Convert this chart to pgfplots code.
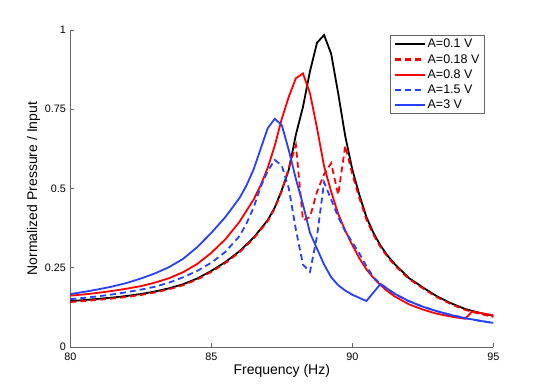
\documentclass[border=0pt]{standalone}
\usepackage{fontspec}
\setmainfont{Liberation Sans}
\usepackage{pgfplots}
\pgfplotsset{compat=1.18}
\definecolor{mblue}{RGB}{38,64,255}
\definecolor{mred}{RGB}{255,0,0}
\begin{document}
\begin{tikzpicture}
\useasboundingbox (-70.3bp,-44bp) rectangle (474.7bp,347bp);
\begin{axis}[
  at={(0,0)}, anchor=south west,
  scale only axis, width=423bp, height=317bp,
  xmin=80, xmax=95, ymin=0, ymax=1,
  axis x line*=bottom, axis y line*=left,
  x axis line style={-}, y axis line style={-},
  axis line style={black!60, line width=0.6bp},
  tick align=inside, major tick length=4bp,
  every tick/.style={black!60, line width=0.6bp},
  xtick={80,85,90,95}, xticklabels={80,85,90,95},
  ytick={0,0.25,0.5,0.75,1}, yticklabels={0,0.25,0.5,0.75,1},
  /pgf/number format/assume math mode=true,
  tick label style={font=\fontsize{10.8bp}{12bp}\selectfont, black},
  xticklabel style={yshift=-2bp},
  yticklabel style={xshift=-1bp},
  xlabel={Frequency (Hz)},
  ylabel={Normalized Pressure / Input},
  every axis x label/.style={at={(rel axis cs:0.5,0)}, anchor=north, inner sep=0pt, yshift=-17bp, font=\fontsize{14bp}{16bp}\selectfont},
  every axis y label/.style={at={([xshift=-30bp]rel axis cs:0,0.5)}, anchor=south, rotate=90, inner sep=0pt, font=\fontsize{14bp}{16bp}\selectfont},
  legend style={at={(0.98,0.984)}, anchor=north east, draw=black!60, line width=0.9bp,
    fill=white, inner xsep=3bp, inner ysep=2.5bp, row sep=2.6bp,
    font=\fontsize{12.5bp}{14bp}\selectfont,
    nodes={inner xsep=2bp, inner ysep=1.2bp}},
  legend cell align=left,
  legend image code/.code={\draw[#1, line width=2.2bp] plot coordinates {(0bp,0bp) (30bp,0bp)};},
]
\addplot[black, line width=1.8bp] coordinates {
(80,0.145)(80.5,0.148)(81,0.152)(81.5,0.156)(82,0.161)(82.5,0.167)(83,0.175)(83.5,0.185)(84,0.198)(84.5,0.216)(85,0.24)(85.5,0.268)(86,0.302)(86.5,0.345)(87,0.40)(87.25,0.44)(87.5,0.495)(87.75,0.56)(88,0.67)(88.25,0.757)(88.5,0.87)(88.75,0.96)(89,0.984)(89.25,0.925)(89.5,0.80)(89.75,0.665)(90,0.56)(90.25,0.48)(90.5,0.41)(90.75,0.36)(91,0.32)(91.25,0.288)(91.5,0.262)(92,0.218)(92.5,0.188)(93,0.16)(93.5,0.138)(94,0.12)(94.5,0.108)(95,0.098)};
\addlegendentry{A=0.1 V}
\addplot[mred, line width=1.8bp, dash pattern=on 6bp off 4bp] coordinates {
(80,0.142)(80.5,0.145)(81,0.149)(81.5,0.153)(82,0.158)(82.5,0.164)(83,0.172)(83.5,0.182)(84,0.195)(84.5,0.213)(85,0.237)(85.5,0.265)(86,0.299)(86.5,0.342)(87,0.397)(87.25,0.437)(87.5,0.492)(87.75,0.565)(88,0.637)(88.25,0.40)(88.5,0.41)(88.75,0.49)(89,0.545)(89.25,0.58)(89.5,0.48)(89.75,0.635)(90,0.545)(90.25,0.47)(90.5,0.402)(90.75,0.354)(91,0.315)(91.25,0.284)(91.5,0.258)(92,0.215)(92.5,0.185)(93,0.157)(93.5,0.135)(94,0.117)(94.5,0.105)(95,0.095)};
\addlegendentry{A=0.18 V}
\addplot[mred, line width=1.8bp] coordinates {
(80,0.162)(80.5,0.166)(81,0.171)(81.5,0.177)(82,0.184)(82.5,0.192)(83,0.203)(83.5,0.217)(84,0.236)(84.5,0.262)(85,0.297)(85.5,0.34)(86,0.395)(86.5,0.465)(86.75,0.51)(87,0.565)(87.25,0.635)(87.5,0.72)(87.75,0.79)(88,0.848)(88.25,0.863)(88.5,0.80)(88.75,0.69)(89,0.57)(89.25,0.49)(89.5,0.42)(89.75,0.367)(90,0.322)(90.25,0.28)(90.5,0.245)(90.75,0.218)(91,0.195)(91.25,0.176)(91.5,0.16)(92,0.135)(92.5,0.118)(93,0.105)(93.5,0.096)(94,0.089)(94.25,0.112)(94.5,0.108)(95,0.10)};
\addlegendentry{A=0.8 V}
\addplot[mblue, line width=1.8bp, dash pattern=on 6bp off 4bp] coordinates {
(80,0.151)(80.5,0.155)(81,0.16)(81.5,0.166)(82,0.173)(82.5,0.181)(83,0.19)(83.5,0.203)(84,0.22)(84.5,0.24)(85,0.266)(85.5,0.30)(86,0.35)(86.25,0.39)(86.5,0.44)(86.75,0.505)(87,0.555)(87.25,0.59)(87.5,0.572)(87.75,0.50)(88,0.37)(88.25,0.26)(88.5,0.237)(88.75,0.35)(89,0.52)(89.25,0.465)(89.5,0.41)(89.75,0.365)(90,0.33)(90.25,0.295)(90.5,0.255)(90.75,0.22)(91,0.199)(91.5,0.168)(92,0.145)(92.5,0.127)(93,0.113)(93.5,0.101)(94,0.091)(94.5,0.083)(95,0.076)};
\addlegendentry{A=1.5 V}
\addplot[mblue, line width=1.8bp] coordinates {
(80,0.167)(80.5,0.174)(81,0.182)(81.5,0.191)(82,0.202)(82.5,0.216)(83,0.232)(83.5,0.252)(84,0.278)(84.5,0.315)(85,0.36)(85.5,0.41)(86,0.47)(86.25,0.51)(86.5,0.56)(86.75,0.625)(87,0.69)(87.25,0.72)(87.5,0.70)(87.75,0.62)(88,0.53)(88.25,0.45)(88.5,0.36)(88.75,0.31)(89,0.26)(89.25,0.22)(89.5,0.195)(89.75,0.178)(90,0.165)(90.25,0.155)(90.5,0.145)(91,0.199)(91.5,0.168)(92,0.145)(92.5,0.127)(93,0.113)(93.5,0.101)(94,0.091)(94.5,0.083)(95,0.076)};
\addlegendentry{A=3 V}
\end{axis}
\end{tikzpicture}
\end{document}
